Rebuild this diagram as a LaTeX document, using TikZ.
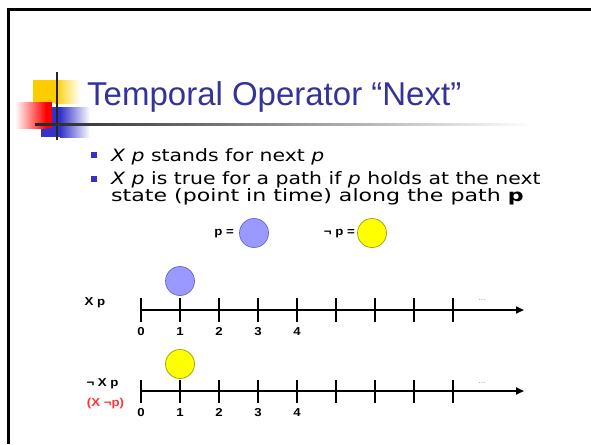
\documentclass[tikz,border=0pt]{standalone}
\usepackage{fontspec}
\setmainfont{Liberation Sans}
\newfontfamily\bodyfont[FakeStretch=1.2,ItalicFont={DejaVu Sans Oblique},BoldFont={DejaVu Sans Bold}]{DejaVu Sans}
\newfontfamily\bodywide[FakeStretch=1.3,BoldFont={DejaVu Sans Bold}]{DejaVu Sans}
\newfontfamily\labelfont[FakeStretch=1.15]{Liberation Sans Bold}
\usetikzlibrary{arrows.meta}
\definecolor{titleblue}{RGB}{51,51,153}
\definecolor{bulletblue}{RGB}{51,51,204}
\definecolor{decoyellow}{RGB}{255,204,0}
\definecolor{pblue}{RGB}{153,153,255}
\definecolor{pblueline}{RGB}{102,102,204}
\definecolor{pyellow}{RGB}{255,255,0}
\definecolor{pyellowline}{RGB}{160,160,0}
\definecolor{negred}{RGB}{255,51,51}
\begin{document}
\begin{tikzpicture}[x=1pt,y=-1pt,every node/.style={inner sep=0pt},
  bodytext/.style={anchor=base west,font=\bodyfont\fontsize{17}{20}\selectfont},
  lbl/.style={font=\labelfont\fontsize{11.5}{13}\selectfont},
  bullet/.style={fill=bulletblue,minimum size=6pt},
  state/.style={circle,minimum size=29pt,line width=0.7pt},
  axis/.style={line width=2pt,-{Triangle[length=8pt,width=7pt]}},
  tick/.style={line width=1.8pt},
  more/.style={font=\fontsize{8}{8}\selectfont,text=black!45}]
\useasboundingbox (0,0) rectangle (591,444);
% slide frame
\draw[line width=3pt] (8.3,444) -- (8.3,9.5) -- (591,9.5);
% title decoration
\fill[decoyellow] (33,80) rectangle (55,103);
\shade[left color=decoyellow,right color=white] (55,80) rectangle (80,103);
\fill[bulletblue] (41,107) rectangle (60,137);
\shade[left color=bulletblue,right color=white] (60,107) rectangle (90,137);
\shade[left color=white,right color=red] (15,102) rectangle (46,128);
\fill[red] (46,102) rectangle (52,128);
\draw[line width=2.5pt,black!85] (57,72) -- (57,140);
\shade[left color=black!85,right color=white] (35,123) rectangle (533,125.5);
\node[anchor=base west,font=\fontsize{33}{38}\selectfont,text=titleblue] (title) at (87,105) {Temporal Operator “Next”};
% bullets
\node[bullet] (b1) at (94,155) {};
\node[bodytext] (l1) at (111,161) {\textit{X p} stands for next \textit{p}};
\node[bullet] (b2) at (94,179) {};
\node[bodytext] (l2) at (111,184) {\textit{X p} is true for a path if \textit{p} holds at the next};
\node[bodytext,font=\bodywide\fontsize{17}{20}\selectfont] (l3) at (111,201) {state (point in time) along the path \textbf{p}};
% legend
\node[lbl,anchor=east] (peq) at (234,234) {p =};
\node[state,fill=pblue,draw=pblueline] (pc) at (254,233) {};
\node[lbl,anchor=east] (npeq) at (355,234) {¬ p =};
\node[state,fill=pyellow,draw=pyellowline] (npc) at (372,233) {};
% timeline for X p
\coordinate (a0) at (141,310);
\coordinate (a1) at (524,310);
\draw[axis] (a0) -- (a1);
\foreach \i in {0,...,8} {
  \pgfmathsetmacro{\x}{141+39*\i}
  \draw[tick] (\x,298) -- (\x,322);
}
\foreach \i in {0,...,4} \node[lbl] (ta\i) at (141+39*\i,331.5) {\i};
\node[state,fill=pblue,draw=pblueline] (s1) at (180,281) {};
\node[more] (ma) at (482,300) {...};
\node[lbl] (xp) at (95,303) {X p};
% timeline for not X p
\coordinate (b0) at (141,391);
\coordinate (b1) at (524,391);
\draw[axis] (b0) -- (b1);
\foreach \i in {0,...,8} {
  \pgfmathsetmacro{\x}{141+39*\i}
  \draw[tick] (\x,380) -- (\x,403);
}
\foreach \i in {0,...,4} \node[lbl] (tb\i) at (141+39*\i,412.5) {\i};
\node[state,fill=pyellow,draw=pyellowline] (s2) at (180,364) {};
\node[more] (mb) at (482,383) {...};
\node[lbl] (nxp) at (102.5,384) {¬ X p};
\node[lbl,text=negred] (xnp) at (105.5,403.5) {(X ¬p)};
\end{tikzpicture}
\end{document}
